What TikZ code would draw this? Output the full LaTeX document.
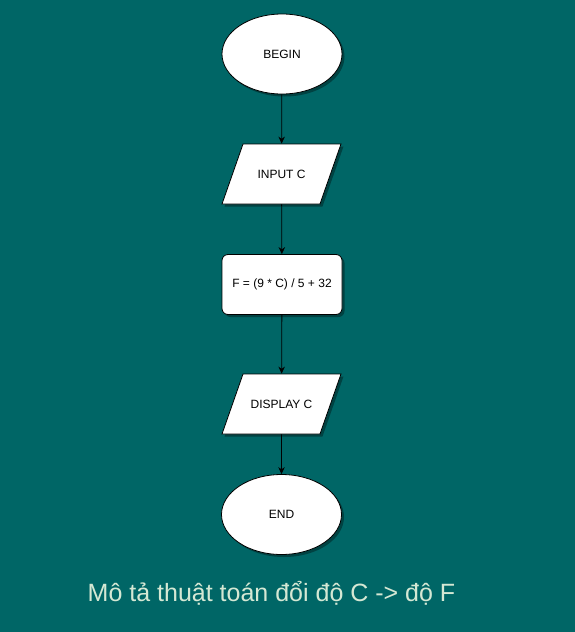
\documentclass[tikz,border=0pt]{standalone}
\usepackage{fontspec}
\setmainfont{Liberation Sans}
\usetikzlibrary{shapes.geometric,arrows.meta,shadows}
\definecolor{bgteal}{HTML}{006666}
\definecolor{captiongreen}{HTML}{D5E8D4}

\begin{document}
\begin{tikzpicture}[x=1pt, y=-1pt,
		box/.style={draw=black, fill=white, line width=0.8pt,
			drop shadow={shadow xshift=2.5pt, shadow yshift=-2.5pt, opacity=0.35, fill=black},
			font=\fontsize{12}{14}\selectfont, inner sep=0pt},
		terminal/.style={box, ellipse, minimum width=120pt, minimum height=80pt},
		io/.style={box, trapezium, trapezium left angle=70.7, trapezium right angle=109.3,
			trapezium stretches body=true, text height=9pt, text depth=0pt, inner ysep=25.5pt,
			minimum width=119pt},
		process/.style={box, rectangle, rounded corners=6pt, minimum width=120pt, minimum height=60pt},
		flow/.style={-{Stealth[length=7pt, width=6.5pt]}, line width=0.8pt}]
		
		\fill[bgteal] (0,0) rectangle (575,632);
		
		\node[terminal] (begin) at (282,54) {BEGIN};
		\node[io] (input) at (281.5,174) {INPUT C};
		\node[process] (calc) at (282,284.5) {F = (9 * C) / 5 + 32};
		\node[io] (display) at (281.5,404) {DISPLAY C};
		\node[terminal] (end) at (281.5,514.5) {END};
		
		\draw[flow] (begin) -- (input);
		\draw[flow] (input) -- (calc);
		\draw[flow] (calc) -- (display);
		\draw[flow] (display) -- (end);
		
		\node[anchor=base, text=captiongreen, font=\fontsize{25}{30}\selectfont] (caption) at (271.5,601) {Mô tả thuật toán đổi độ C -> độ F};
		
\end{tikzpicture}
\end{document}
